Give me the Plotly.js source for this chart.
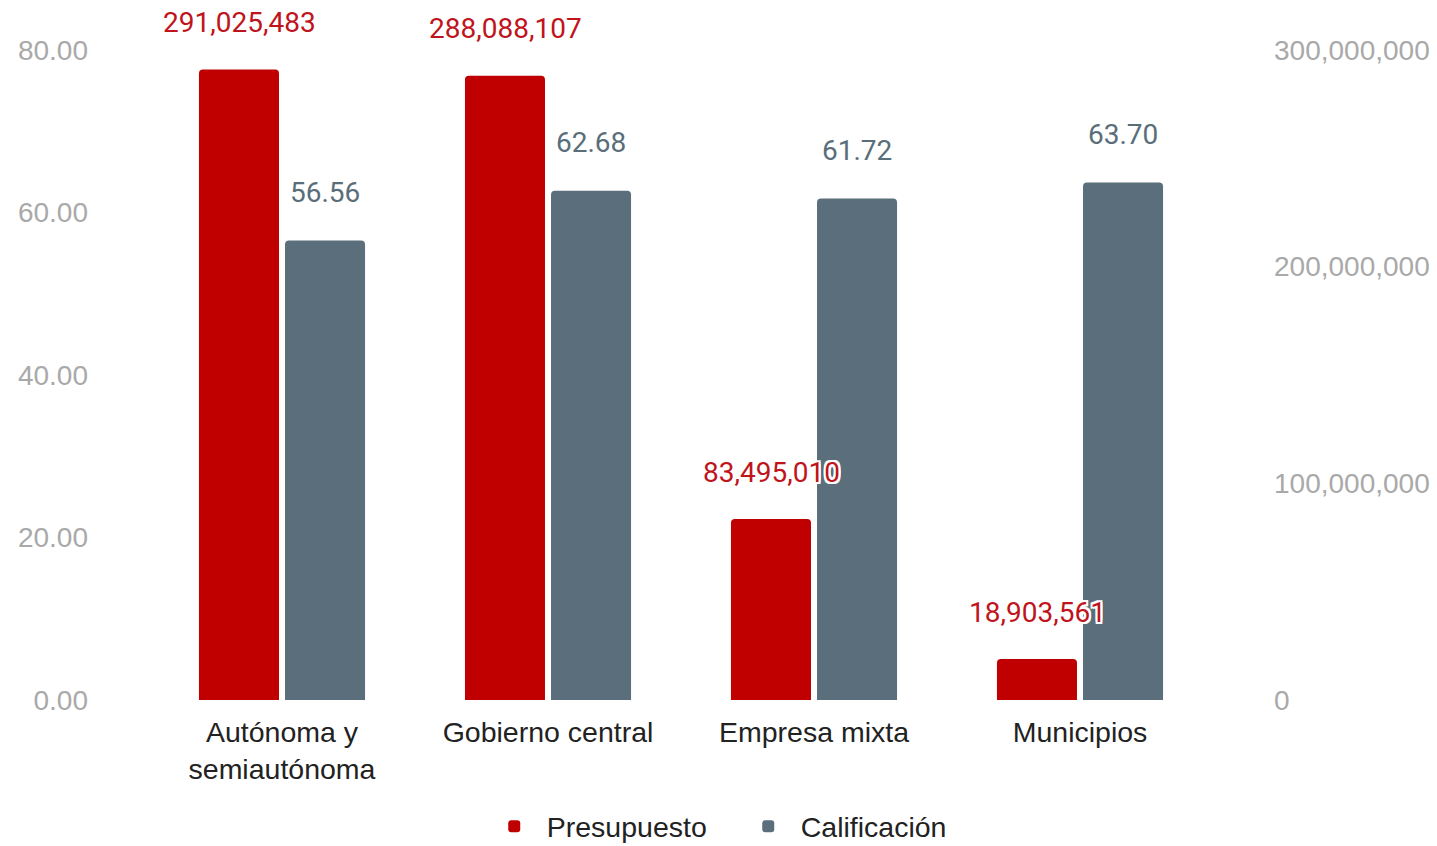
<!DOCTYPE html>
<html>
<head>
<meta charset="utf-8">
<script src="https://cdn.plot.ly/plotly-3.0.1.min.js"></script>
<style>html,body{margin:0;padding:0;background:#fff;}#chart{width:1437px;height:846px;}</style>
</head>
<body>
<div id="chart"></div>
<script>
const categories = ["Autónoma y<br>semiautónoma", "Gobierno central", "Empresa mixta", "Municipios"];
const presupuesto = [291025483, 288088107, 83495010, 18903561];
const calificacion = [56.56, 62.68, 61.72, 63.70];
const leftTicks = [0, 20, 40, 60, 80];
const rightTicks = [0, 100000000, 200000000, 300000000];

const RED = "#c00000", GREY = "#5a6f7b";
const haloShadow = "2px 2px 0 #fff, -2px -2px 0 #fff, 2px -2px 0 #fff, -2px 2px 0 #fff, 0 2px 0 #fff, 0 -2px 0 #fff, 2px 0 0 #fff, -2px 0 0 #fff";

const traces = [
  {type: "bar", name: "Presupuesto", x: categories, y: presupuesto, yaxis: "y2",
   offsetgroup: "1", marker: {color: RED}, hoverinfo: "x+y"},
  {type: "bar", name: "Calificación", x: categories, y: calificacion, yaxis: "y",
   offsetgroup: "2", marker: {color: GREY}, hoverinfo: "x+y"}
];

const annotations = [];
categories.forEach((c, i) => {
  annotations.push({x: c, y: presupuesto[i], yref: "y2", xref: "x",
    text: presupuesto[i].toLocaleString("en-US"), showarrow: false,
    xshift: -43, yshift: 47, yanchor: "middle",
    font: {family: "Roboto", size: 28, color: "#c0141c", shadow: haloShadow}});
  annotations.push({x: c, y: calificacion[i], yref: "y", xref: "x",
    text: calificacion[i].toFixed(2), showarrow: false,
    xshift: 43, yshift: 48, yanchor: "middle",
    font: {family: "Roboto", size: 28, color: "#5a6e7a", shadow: haloShadow}});
});

const layout = {
  width: 1437, height: 846,
  paper_bgcolor: "#fff", plot_bgcolor: "#fff",
  margin: {l: 149, r: 224, t: 50, b: 146, autoexpand: false},
  barmode: "group", bargap: 0.353, bargroupgap: 0.07, barcornerradius: 4,
  xaxis: {showgrid: false, zeroline: false, showline: false, ticks: "", ticklabelstandoff: 12,
    tickangle: 0, automargin: false,
    tickfont: {family: "Liberation Sans, Arial", size: 28.5, color: "#222"}},
  yaxis: {range: [0, 80], tickvals: leftTicks, tickformat: ".2f", showgrid: false,
    zeroline: false, showline: false, ticks: "", ticklabelstandoff: 60, automargin: false,
    tickfont: {family: "Liberation Sans, Arial", size: 28, color: "#a9a9a9"}},
  yaxis2: {range: [0, 300000000], tickvals: rightTicks, tickformat: ",d", overlaying: "y",
    side: "right", showgrid: false, zeroline: false, showline: false, ticks: "",
    ticklabelstandoff: 60, automargin: false,
    tickfont: {family: "Liberation Sans, Arial", size: 28, color: "#a9a9a9"}},
  showlegend: true,
  legend: {orientation: "h", xref: "container", yref: "paper", x: 0.512, xanchor: "center",
    y: -0.195, yanchor: "middle", itemwidth: 55, entrywidth: 184,
    font: {family: "Liberation Sans, Arial", size: 28.5, color: "#222"}},
  annotations: annotations
};

Plotly.newPlot("chart", traces, layout, {displayModeBar: false, staticPlot: true});
</script>
</body>
</html>
